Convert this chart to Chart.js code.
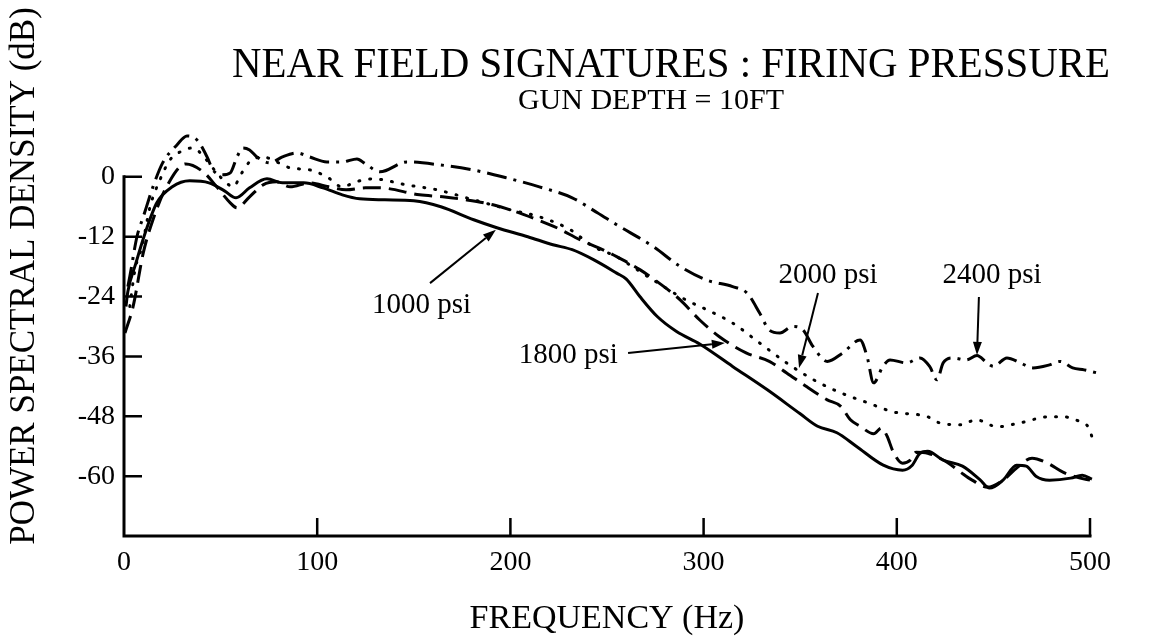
<!DOCTYPE html>
<html>
<head>
<meta charset="utf-8">
<title>Near field signatures : firing pressure</title>
<script src="https://cdn.jsdelivr.net/npm/chart.js@4.4.1/dist/chart.umd.min.js"></script>
<style>
  html, body { margin: 0; padding: 0; background: #fff; }
  canvas { display: block; }
</style>
</head>
<body>
<canvas id="chart" width="1149" height="639"></canvas>
<script>
const SERIF = '"Liberation Serif", "Times New Roman", serif';

// power spectral density (dB) against frequency (Hz), one pair per firing pressure
const freq1000 = [1, 2, 6, 11, 17, 25, 34, 44, 52, 58, 65, 74, 82, 93, 103, 113, 122, 135, 150, 164,
  181, 193, 209, 222, 232, 243, 255, 260, 267, 276, 286, 298, 315, 333, 350, 359, 369, 379, 393, 403,
  408, 412, 416, 424, 434, 443, 448, 455, 462, 467, 472, 479, 490, 496, 501];
const psd1000 = [-26, -23, -17.5, -11.2, -5.2, -2, -0.8, -1.2, -2.8, -4.2, -2.2, -0.4, -1.2, -1.2, -2.2, -3.6, -4.4, -4.6, -4.8, -6,
  -8.6, -10.2, -12, -13.6, -14.6, -16.6, -19.3, -20.5, -24, -28, -31, -33.5, -38, -42.7, -47.5, -50, -51.3, -54, -57.8, -58.8,
  -57.8, -55.4, -55, -56.8, -58, -60.7, -62.4, -60.8, -57.8, -58, -60, -60.8, -60.4, -59.8, -60.6];

const freq1800 = [0.5, 4.7, 10, 15, 22, 32, 41, 48, 55, 58.5, 65, 72, 79, 86, 96, 106, 115, 125, 132, 153,
  165, 177, 191, 203, 214, 224, 236, 246, 255, 267, 277, 288, 298, 308, 322, 334, 343, 353, 364, 371,
  376, 381, 388, 392, 395, 398, 403, 407, 410, 416, 426, 433, 439, 447, 455, 462, 470, 478, 486, 493, 500];
const psd1800 = [-31.3, -26, -15.2, -8.6, -2, 2.6, 1, -2, -5.2, -6.2, -4, -1.6, -1, -2, -1.2, -2, -2.6, -2.2, -2.2, -3.6,
  -4, -4.6, -5.6, -7, -8.6, -10.2, -12.6, -14.3, -16, -18.6, -21.3, -24.7, -28.7, -32, -35.3, -37, -39.3, -42, -44.7, -46,
  -48.7, -50, -51.5, -50.4, -52, -55, -57.4, -56.8, -55.2, -55.4, -57.2, -59.2, -60.8, -62.2, -60.8, -58.4, -56.4, -57.4, -59.2, -60.2, -60.8];

const freq2000 = [3, 5.7, 9.3, 13.5, 18.6, 23.8, 29, 35.7, 39, 43.5, 48, 53, 56.4, 61, 65, 72, 79, 86, 96, 105,
  113, 120, 129, 146, 162, 180, 200, 215, 231, 243, 255, 260, 274, 291, 302, 315, 329, 343, 357, 371,
  385, 398, 416, 422, 433, 441, 452, 464, 479, 486, 495, 499, 501, 502.6];
const psd2000 = [-26, -18.6, -14, -6, -0.6, 3.4, 5, 5.8, 5, 3, 0.8, -1.2, -2, 0.8, 3, 4, 3, 1.8, 1.4, 0,
  -2, -1, -0.4, -1.6, -2.6, -4.5, -6.6, -8, -10.6, -14, -16, -17.2, -20.7, -24.7, -26.7, -29.3, -33.3, -37.3, -40.7, -43.3,
  -45.3, -47.1, -48.1, -49.3, -49.7, -48.7, -50.1, -49.3, -48.1, -48.1, -49.1, -50.1, -52.1, -54.4];

const freq2400 = [2, 3, 6.7, 10, 15, 20, 27.4, 32.6, 37.8, 43, 46, 51, 55, 58.5, 61.6, 65, 68.8, 75.6, 82, 89.5,
  96, 105, 113, 120.6, 125, 132.5, 146.5, 163.5, 180.6, 198, 215, 232, 245, 255, 274, 288, 301.7, 315, 322.5, 329,
  334, 339.5, 346, 351.5, 356.6, 364, 372, 381, 384.6, 388, 392.8, 396.5, 405, 412, 417, 420.8, 424, 429, 436, 441.5,
  446.7, 450, 457, 464, 470.5, 479, 484.5, 491, 497, 503.6];
const psd2400 = [-22, -20, -12, -8, -2, 2.8, 6.4, 8.2, 7.4, 4, 1.4, 0.4, 0.8, 4, 5.8, 5.4, 4, 2.8, 4, 4.8,
  4, 3, 3, 3.6, 2.6, 1, 3, 2.4, 1.4, -0.2, -2, -4.2, -7.2, -9.6, -14, -18, -20.7, -22, -23.3, -27.3,
  -30.7, -31.3, -30, -30.7, -34, -37, -35.3, -32.7, -36, -41.3, -38, -36.7, -37.3, -36.3, -38, -40.7, -37.3, -36.3, -36.7, -35.8,
  -37.3, -38, -36.3, -37.3, -38.3, -37.7, -37, -38.3, -38.7, -39.3];

const xTicks = [0, 100, 200, 300, 400, 500];
const yTicks = [0, -12, -24, -36, -48, -60];

// callouts: label centre, arrow tail and arrow head, all in Hz / dB
const callouts = [
  { text: '1000 psi', at: [154, -25.7], from: [158.4, -21.3], to: [192.5, -10.6] },
  { text: '1800 psi', at: [230, -35.7], from: [260.9, -35.3], to: [311, -33.3] },
  { text: '2000 psi', at: [364.4, -19.7], from: [359.2, -23.3], to: [349.4, -38.3] },
  { text: '2400 psi', at: [449.3, -19.7], from: [442.5, -24.1], to: [441.5, -35.7] }
];

const pairs = (xs, ys) => xs.map((v, i) => ({ x: v, y: ys[i] }));

function series(label, xs, ys, dash, cap) {
  return {
    label: label,
    data: pairs(xs, ys),
    borderColor: '#000',
    borderWidth: 3,
    borderDash: dash,
    borderCapStyle: cap || 'butt',
    pointRadius: 0,
    cubicInterpolationMode: 'monotone',
    clip: false
  };
}

function arrow(ctx, ax, ay, bx, by) {
  const ang = Math.atan2(by - ay, bx - ax);
  const head = 13, half = 4.5;
  const hx = bx - head * Math.cos(ang), hy = by - head * Math.sin(ang);
  ctx.beginPath();
  ctx.moveTo(ax, ay);
  ctx.lineTo(hx, hy);
  ctx.stroke();
  ctx.beginPath();
  ctx.moveTo(bx, by);
  ctx.lineTo(hx + half * Math.sin(ang), hy - half * Math.cos(ang));
  ctx.lineTo(hx - half * Math.sin(ang), hy + half * Math.cos(ang));
  ctx.closePath();
  ctx.fill();
}

// L-shaped axes with inward ticks, callouts and the titles
const frame = {
  id: 'frame',
  afterDraw(chart) {
    const { ctx, scales: { x, y } } = chart;
    const x0 = x.getPixelForValue(0), x1 = x.getPixelForValue(500);
    const yb = y.getPixelForValue(-72), yt = y.getPixelForValue(0);

    ctx.save();
    ctx.strokeStyle = '#000';
    ctx.fillStyle = '#000';
    ctx.lineWidth = 3;
    ctx.beginPath();
    ctx.moveTo(x0, yt - 1.5);
    ctx.lineTo(x0, yb);
    ctx.lineTo(x1 + 1.5, yb);
    ctx.stroke();

    ctx.lineWidth = 2.5;
    ctx.beginPath();
    y.ticks.forEach(t => {
      const py = y.getPixelForValue(t.value);
      ctx.moveTo(x0, py);
      ctx.lineTo(x0 + 18, py);
    });
    x.ticks.forEach(t => {
      if (t.value === 0) return;
      const px = x.getPixelForValue(t.value);
      ctx.moveTo(px, yb);
      ctx.lineTo(px, yb - 18);
    });
    ctx.stroke();

    ctx.lineWidth = 2;
    ctx.font = '29px ' + SERIF;
    ctx.textAlign = 'center';
    ctx.textBaseline = 'middle';
    callouts.forEach(c => {
      ctx.fillText(c.text, x.getPixelForValue(c.at[0]), y.getPixelForValue(c.at[1]));
      arrow(ctx,
        x.getPixelForValue(c.from[0]), y.getPixelForValue(c.from[1]),
        x.getPixelForValue(c.to[0]), y.getPixelForValue(c.to[1]));
    });

    ctx.textBaseline = 'alphabetic';
    ctx.font = '43px ' + SERIF;
    ctx.fillText('NEAR FIELD SIGNATURES : FIRING PRESSURE', 671, 77, 878);
    ctx.font = '30px ' + SERIF;
    ctx.fillText('GUN DEPTH = 10FT', 651, 109);

    ctx.translate(25, 276);
    ctx.rotate(-Math.PI / 2);
    ctx.textBaseline = 'middle';
    ctx.font = '35px ' + SERIF;
    ctx.fillText('POWER SPECTRAL DENSITY (dB)', 0, 0);
    ctx.restore();
  }
};

const tickFont = { family: SERIF, size: 28 };

new Chart(document.getElementById('chart'), {
  type: 'line',
  data: {
    datasets: [
      series('1000 psi', freq1000, psd1000, []),
      series('1800 psi', freq1800, psd1800, [18, 8]),
      series('2000 psi', freq2000, psd2000, [1, 10], 'round'),
      series('2400 psi', freq2400, psd2400, [20, 7, 3, 7])
    ]
  },
  options: {
    responsive: false,
    animation: false,
    devicePixelRatio: 1,
    layout: { padding: { top: 117, right: 59, left: 0, bottom: 0 } },
    plugins: {
      legend: { display: false },
      tooltip: { enabled: false }
    },
    scales: {
      x: {
        type: 'linear',
        min: 0,
        max: 500,
        afterBuildTicks: s => { s.ticks = xTicks.map(v => ({ value: v })); },
        afterFit: s => { s.height = 103; },
        grid: { display: false, drawTicks: false },
        border: { display: false },
        ticks: { color: '#000', font: tickFont, padding: 10, maxRotation: 0 },
        title: {
          display: true,
          text: 'FREQUENCY (Hz)',
          color: '#000',
          font: { family: SERIF, size: 34 },
          padding: 0
        }
      },
      y: {
        type: 'linear',
        min: -72,
        max: 12,
        afterBuildTicks: s => { s.ticks = yTicks.map(v => ({ value: v })); },
        afterFit: s => { s.width = 124; },
        grid: { display: false, drawTicks: false },
        border: { display: false },
        ticks: { color: '#000', font: tickFont, padding: 9 }
      }
    }
  },
  plugins: [frame]
});
</script>
</body>
</html>
